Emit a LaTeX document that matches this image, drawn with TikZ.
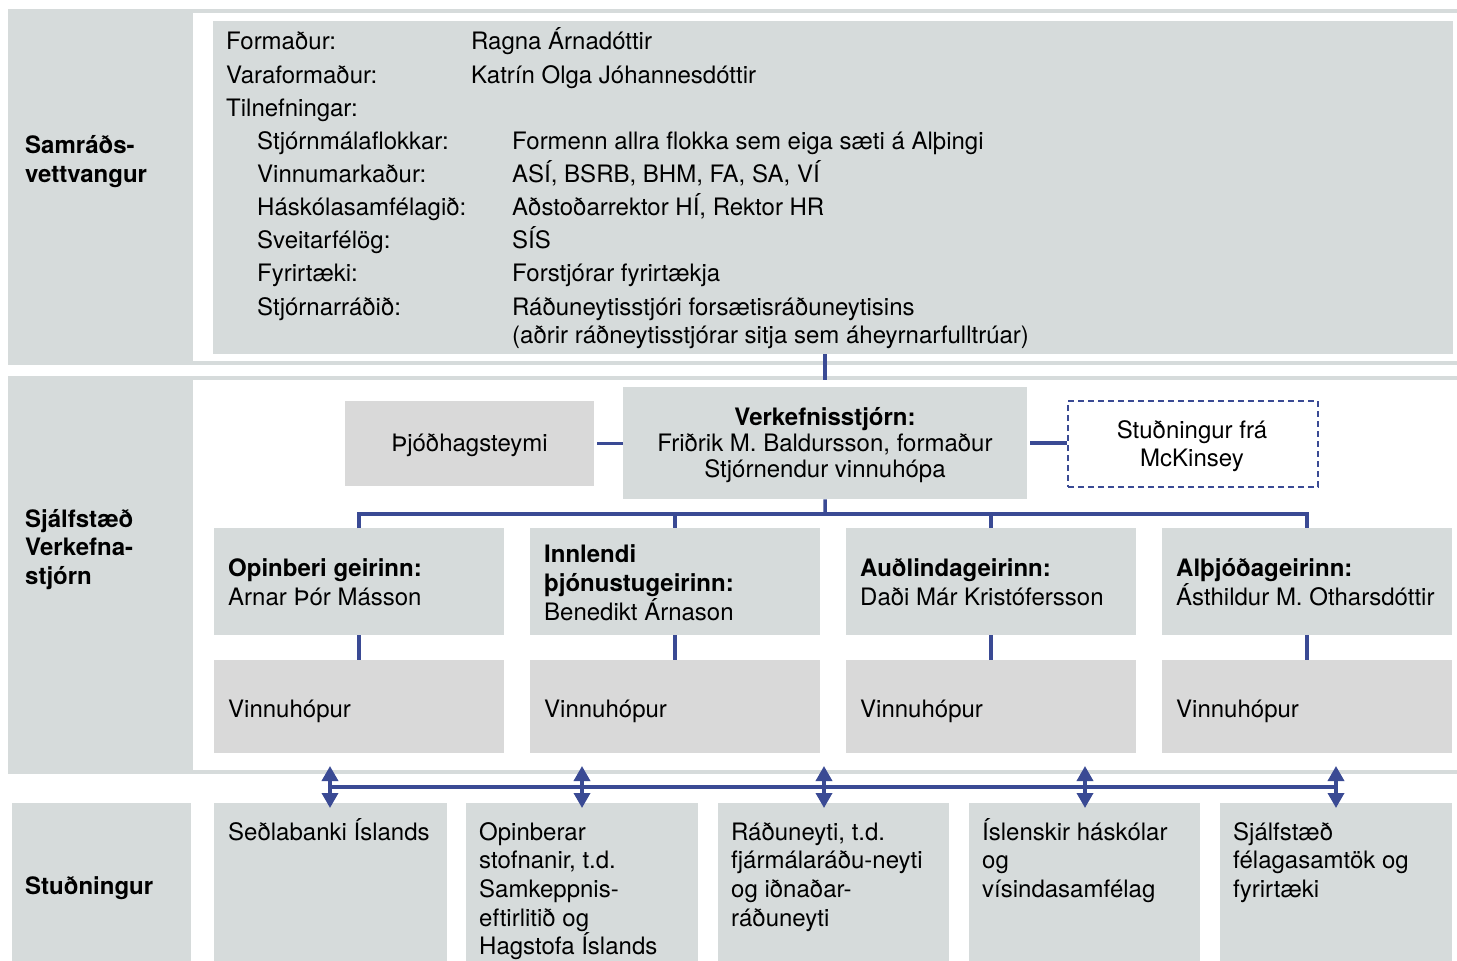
\documentclass[tikz,border=0pt]{standalone}
\usepackage{fontspec}
\setmainfont{TeX Gyre Heros}
\usetikzlibrary{arrows.meta}
\definecolor{bandgray}{HTML}{D6DBDB}
\definecolor{boxgray}{HTML}{D9D9D9}
\definecolor{lineblue}{HTML}{3A4A94}
\begin{document}
\begin{tikzpicture}[x=1pt,y=-1pt,
  font=\fontsize{24}{28}\selectfont,
  gbox/.style={fill=bandgray,draw=none,inner sep=0pt,anchor=north west},
  nbox/.style={fill=boxgray,draw=none,inner sep=0pt,anchor=north west},
  lbl/.style={anchor=base west,inner sep=0pt},
  blbl/.style={anchor=base west,inner sep=0pt,font=\fontsize{24}{28}\selectfont\bfseries},
  ctr/.style={anchor=base,inner sep=0pt},
  conn/.style={draw=lineblue,line width=3.5pt},
  dbl/.style={conn,{Triangle[width=16pt,length=15pt]}-{Triangle[width=16pt,length=15pt]}},
  mlbl/.style={anchor=north west,inner sep=0pt,align=left,font=\fontsize{24}{28.6}\selectfont}
]
\useasboundingbox (0,0) rectangle (1457,961);
% band backgrounds
\fill[bandgray] (8,9) rectangle (1457,365);
\fill[white] (193,13) rectangle (1457,361);
\fill[bandgray] (8,376) rectangle (1457,774);
\fill[white] (193,380) rectangle (1457,770);

% band labels
\node[blbl] (L1a) at (25,153) {Samráðs-};
\node[blbl] (L1b) at (25,182) {vettvangur};
\node[blbl] (L2a) at (25,527) {Sjálfstæð};
\node[blbl] (L2b) at (25,555) {Verkefna-};
\node[blbl] (L2c) at (25,584) {stjórn};

% top box
\node[gbox,minimum width=1240pt,minimum height=333pt] (sv) at (213,21) {};
\node[lbl] (r1a) at (226,49) {Formaður:};
\node[lbl] (r1b) at (471,49) {Ragna Árnadóttir};
\node[lbl] (r2a) at (226,83) {Varaformaður:};
\node[lbl] (r2b) at (471,83) {Katrín Olga Jóhannesdóttir};
\node[lbl] (r3a) at (226,116) {Tilnefningar:};
\node[lbl] (r4a) at (257,149) {Stjórnmálaflokkar:};
\node[lbl] (r4b) at (512,149) {Formenn allra flokka sem eiga sæti á Alþingi};
\node[lbl] (r5a) at (257,182) {Vinnumarkaður:};
\node[lbl] (r5b) at (512,182) {ASÍ, BSRB, BHM, FA, SA, VÍ};
\node[lbl] (r6a) at (257,215) {Háskólasamfélagið:};
\node[lbl] (r6b) at (512,215) {Aðstoðarrektor HÍ, Rektor HR};
\node[lbl] (r7a) at (257,248) {Sveitarfélög:};
\node[lbl] (r7b) at (512,248) {SÍS};
\node[lbl] (r8a) at (257,281) {Fyrirtæki:};
\node[lbl] (r8b) at (512,281) {Forstjórar fyrirtækja};
\node[lbl] (r9a) at (257,315) {Stjórnarráðið:};
\node[lbl] (r9b) at (512,315) {Ráðuneytisstjóri forsætisráðuneytisins};
\node[lbl] (r10b) at (512,343) {(aðrir ráðneytisstjórar sitja sem áheyrnarfulltrúar)};

% middle
\node[nbox,minimum width=249pt,minimum height=85pt] (th) at (345,401) {};
\node[ctr] (tht) at (469.5,451) {Þjóðhagsteymi};
\node[gbox,minimum width=404pt,minimum height=112pt] (vk) at (623,387) {};
\node[ctr,font=\fontsize{24}{28}\selectfont\bfseries] (vk1) at (825,425) {Verkefnisstjórn:};
\node[ctr] (vk2) at (825,451) {Friðrik M. Baldursson, formaður};
\node[ctr] (vk3) at (825,477) {Stjórnendur vinnuhópa};
\node[draw=lineblue,line width=1.8pt,dash pattern=on 6pt off 4pt,fill=white,inner sep=0pt,minimum width=250pt,minimum height=86pt,anchor=north west] (mck) at (1067,400) {};
\node[ctr] (mck1) at (1192,438) {Stuðningur frá};
\node[ctr] (mck2) at (1192,466) {McKinsey};

\coordinate (c1) at (825,380);
\draw[conn] (sv.south -| c1) -- (c1);
\draw[conn,shorten <=3pt] (th.east) -- (th.east -| vk.west);
\draw[conn,shorten <=3pt] (vk.east) -- (vk.east -| mck.west);

% sector boxes
\node[gbox,minimum width=290pt,minimum height=107pt] (s1) at (214,528) {};
\node[gbox,minimum width=290pt,minimum height=107pt] (s2) at (530,528) {};
\node[gbox,minimum width=290pt,minimum height=107pt] (s3) at (846,528) {};
\node[gbox,minimum width=290pt,minimum height=107pt] (s4) at (1162,528) {};
\node[blbl] (s1a) at (228,576) {Opinberi geirinn:};
\node[lbl] (s1b) at (228,605) {Arnar Þór Másson};
\node[blbl] (s2a) at (544,562) {Innlendi};
\node[blbl] (s2b) at (544,591) {þjónustugeirinn:};
\node[lbl] (s2c) at (544,620) {Benedikt Árnason};
\node[blbl] (s3a) at (860,576) {Auðlindageirinn:};
\node[lbl] (s3b) at (860,605) {Daði Már Kristófersson};
\node[blbl] (s4a) at (1176,576) {Alþjóðageirinn:};
\node[lbl] (s4b) at (1176,605) {Ásthildur M. Otharsdóttir};

\coordinate (bus) at (825,514);
\draw[conn] (vk.south) -- (bus);
\draw[conn,line join=miter] (s1.north) -- (s1.north |- bus) -- (s4.north |- bus) -- (s4.north);
\draw[conn] (s2.north |- bus) -- (s2.north);
\draw[conn] (s3.north |- bus) -- (s3.north);

% working groups
\node[nbox,minimum width=290pt,minimum height=93pt] (w1) at (214,660) {};
\node[nbox,minimum width=290pt,minimum height=93pt] (w2) at (530,660) {};
\node[nbox,minimum width=290pt,minimum height=93pt] (w3) at (846,660) {};
\node[nbox,minimum width=290pt,minimum height=93pt] (w4) at (1162,660) {};
\node[lbl] (w1t) at (228,717) {Vinnuhópur};
\node[lbl] (w2t) at (544,717) {Vinnuhópur};
\node[lbl] (w3t) at (860,717) {Vinnuhópur};
\node[lbl] (w4t) at (1176,717) {Vinnuhópur};
\draw[conn] (s1.south) -- (w1.north);
\draw[conn] (s2.south) -- (w2.north);
\draw[conn] (s3.south) -- (w3.north);
\draw[conn] (s4.south) -- (w4.north);

% support row
\node[gbox,minimum width=179pt,minimum height=158pt] (sl) at (12,803) {};
\node[blbl] (slt) at (25,894) {Stuðningur};
\node[gbox,minimum width=233pt,minimum height=158pt] (b1) at (214,803) {};
\node[gbox,minimum width=232pt,minimum height=158pt] (b2) at (466,803) {};
\node[gbox,minimum width=231pt,minimum height=158pt] (b3) at (718,803) {};
\node[gbox,minimum width=231pt,minimum height=158pt] (b4) at (969,803) {};
\node[gbox,minimum width=232pt,minimum height=158pt] (b5) at (1220,803) {};
\newcommand{\topstrut}{\rule{0pt}{23pt}}
\node[mlbl] (b1t) at (228,817) {\topstrut Seðlabanki Íslands};
\node[mlbl] (b2t) at (479,817) {\topstrut Opinberar\\stofnanir, t.d.\\Samkeppnis-\\eftirlitið og\\Hagstofa Íslands};
\node[mlbl] (b3t) at (731,817) {\topstrut Ráðuneyti, t.d.\\fjármálaráðu-neyti\\og iðnaðar-\\ráðuneyti};
\node[mlbl] (b4t) at (982,817) {\topstrut Íslenskir háskólar\\og\\vísindasamfélag};
\node[mlbl] (b5t) at (1233,817) {\topstrut Sjálfstæð\\félagasamtök og\\fyrirtæki};

% arrows
\coordinate (h1) at (330,787);
\coordinate (h5) at (1336,787);
\draw[conn] (h1) -- (h5);
\foreach \i/\xx in {1/330,2/582,3/824,4/1085,5/1336}{
  \coordinate (t\i) at (\xx,766);
  \coordinate (u\i) at (\xx,808);
  \draw[dbl] (t\i) -- (u\i);
}
\end{tikzpicture}
\end{document}
